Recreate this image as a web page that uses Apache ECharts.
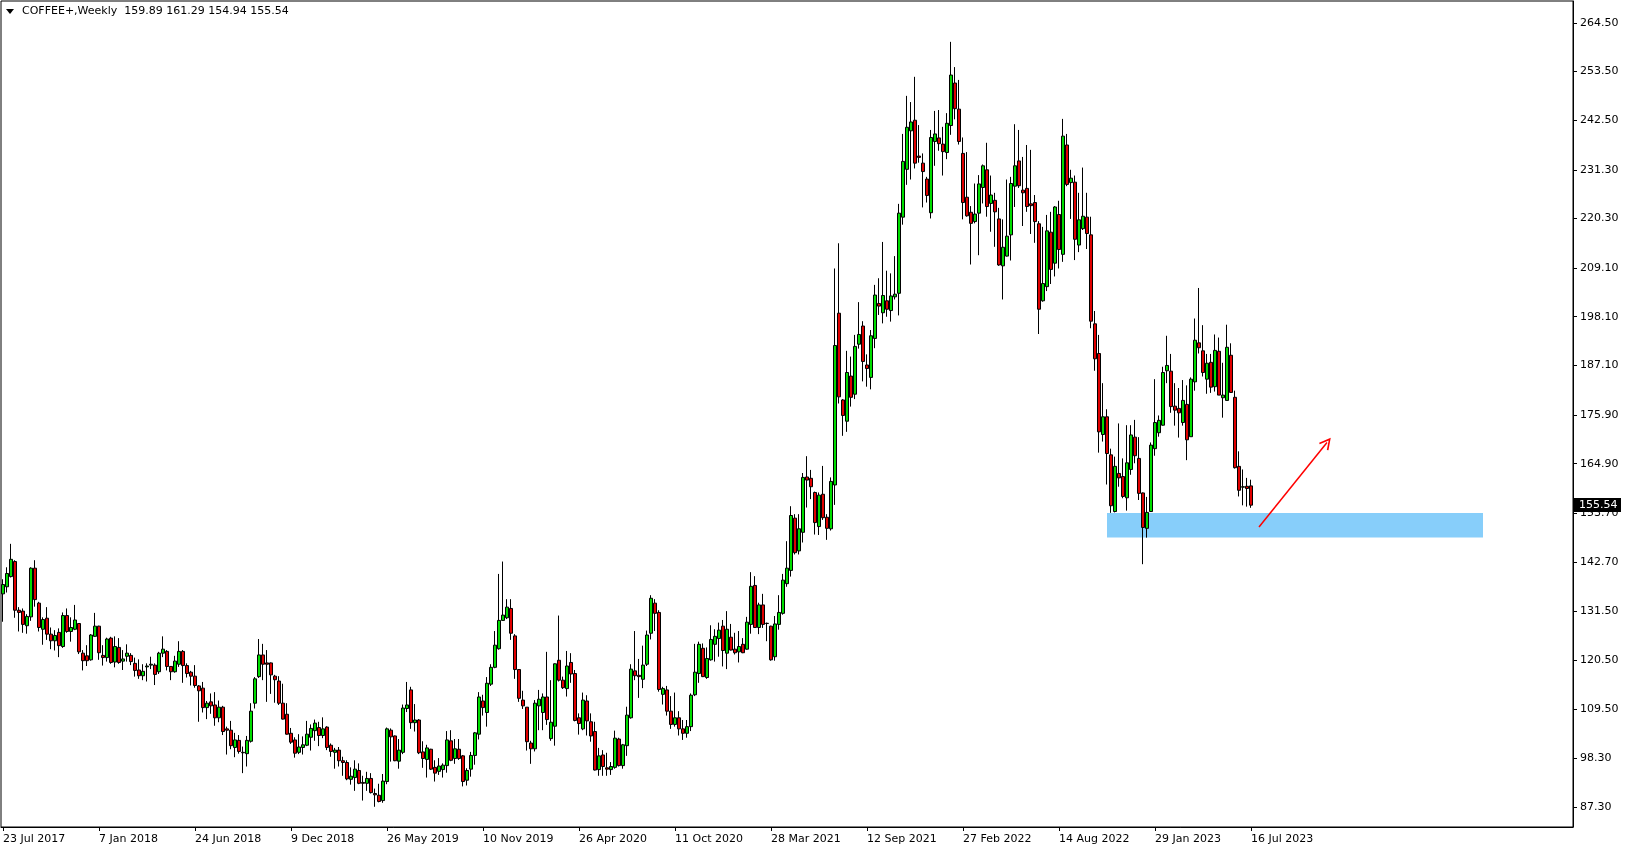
<!DOCTYPE html>
<html><head><meta charset="utf-8">
<script src="https://cdn.jsdelivr.net/npm/echarts@6/dist/echarts.min.js"></script>
<style>html,body{margin:0;padding:0;background:#fff;}#c{width:1629px;height:850px;}</style>
</head><body><div id="c"></div>
<script>
const symbolName = 'COFFEE+,Weekly';
const headerValues = ['159.89', '161.29', '154.94', '155.54'];
const xTickLabels = ['23 Jul 2017','7 Jan 2018','24 Jun 2018','9 Dec 2018','26 May 2019','10 Nov 2019','26 Apr 2020','11 Oct 2020','28 Mar 2021','12 Sep 2021','27 Feb 2022','14 Aug 2022','29 Jan 2023','16 Jul 2023'];
const yTickValues = [87.3, 98.3, 109.5, 120.5, 131.5, 142.7, 153.7, 164.9, 175.9, 187.1, 198.1, 209.1, 220.3, 231.3, 242.5, 253.5, 264.5];

const open = [
135.5,137.1,139.4,142.8,131.8,131.6,128.3,130.3,141.3,133.4,
127.5,130.0,126.4,124.9,126.8,123.6,130.6,127.0,127.5,128.8,
122.1,121.5,120.6,125.9,128.2,121.6,121.1,125.5,120.1,123.4,
120.3,121.4,121.6,119.8,118.3,117.0,119.0,119.4,119.4,117.9,
122.1,122.5,119.1,117.9,119.6,122.5,119.3,117.8,116.9,114.7,
114.2,109.8,111.1,110.4,107.5,109.9,105.0,104.7,100.8,102.4,
99.7,99.4,102.2,110.8,116.8,121.7,119.9,119.9,116.9,115.8,
110.8,108.3,104.0,102.5,99.7,100.8,101.3,103.1,104.6,105.3,
103.5,105.4,101.3,99.7,100.2,97.8,97.4,93.6,94.0,95.6,
92.9,92.7,93.8,90.4,90.0,88.8,93.1,104.7,103.4,97.7,
99.7,109.6,113.8,106.4,107.0,99.8,98.1,100.4,96.3,95.4,
95.8,96.7,102.3,98.3,100.4,98.9,93.4,95.9,99.0,103.8,
111.3,108.7,115.1,118.9,123.1,129.5,130.1,132.2,126.0,118.4,
111.5,109.9,101.8,100.5,110.2,108.7,112.2,102.8,105.6,120.5,
116.0,114.1,120.0,117.5,107.5,105.0,111.3,106.6,104.4,95.8,
99.1,96.2,95.8,96.3,102.7,96.7,101.2,107.5,118.1,117.1,
116.2,119.6,126.6,133.4,131.3,112.8,113.8,109.0,106.0,107.5,
105.0,104.0,105.5,112.7,117.5,123.2,116.6,120.6,124.1,125.4,
128.2,122.1,125.7,123.0,122.4,124.1,123.0,128.6,137.4,127.9,
133.0,128.8,128.2,121.3,128.6,131.1,137.8,140.8,152.6,145.2,
149.4,161.9,161.6,158.4,150.7,158.0,152.8,150.2,160.1,198.9,
179.3,174.5,184.7,180.6,191.9,196.0,187.2,184.4,193.2,201.1,
199.0,201.7,199.5,202.6,203.4,220.6,231.4,240.1,242.5,234.4,
232.8,229.2,221.6,237.7,238.5,237.1,235.2,241.3,250.9,245.0,
235.0,225.1,221.7,219.6,221.5,227.3,231.3,223.7,224.4,220.2,
209.6,211.8,216.6,227.6,233.3,226.7,227.1,223.6,223.9,219.1,
201.7,204.9,217.2,210.2,221.2,212.2,236.9,228.4,228.5,214.3,
218.0,220.6,216.6,196.5,189.8,171.5,175.5,166.9,154.1,162.7,
162.0,157.2,163.6,170.9,166.1,158.3,150.3,154.1,168.3,171.9,
173.6,185.9,185.8,177.9,177.4,174.2,178.3,171.0,183.4,192.2,
190.4,184.0,187.8,182.3,190.3,179.8,179.2,189.4,179.9,164.3,
159.6,159.8,159.89];
const high = [
138.8,141.5,146.8,143.1,132.5,132.2,130.9,141.5,143.1,133.7,
130.2,132.5,127.9,127.3,127.7,131.3,132.2,130.2,133.0,128.9,
122.8,123.9,126.4,131.2,128.3,123.9,125.6,125.8,125.9,125.5,
122.8,124.1,122.1,121.1,120.7,119.6,119.8,121.3,119.8,122.4,
125.9,122.8,119.2,121.5,124.8,122.8,119.8,118.1,119.4,114.9,
115.6,111.3,113.0,113.3,111.4,110.2,105.5,106.8,104.1,103.6,
101.0,103.4,110.8,116.7,125.3,124.2,122.8,120.0,117.2,116.9,
115.2,110.8,105.2,103.1,103.8,103.3,106.8,106.0,107.1,106.6,
107.6,105.6,101.7,100.7,100.9,98.7,97.9,96.3,97.9,97.2,
94.4,95.3,95.0,91.5,92.6,94.8,105.3,105.1,103.5,102.7,
110.5,115.6,114.5,110.6,107.2,102.2,101.4,100.5,97.9,98.4,
97.2,104.5,104.7,102.7,102.7,99.1,96.1,99.8,104.3,113.3,
112.7,116.7,119.6,127.1,140.0,142.8,134.3,134.3,126.4,118.5,
113.6,109.9,102.3,111.5,113.8,113.0,122.4,116.0,119.8,130.6,
116.8,122.6,122.1,118.3,108.5,113.2,112.6,108.5,106.6,100.7,
100.2,99.6,97.5,104.6,103.0,101.6,110.0,119.6,127.1,120.8,
123.8,127.2,135.2,134.3,131.8,114.5,114.7,112.4,113.2,109.0,
107.0,107.0,113.0,124.2,124.7,124.3,123.4,128.4,127.5,129.0,
129.6,131.6,128.7,126.7,127.1,125.5,130.3,140.4,139.5,133.5,
135.5,129.0,128.3,130.5,135.2,140.0,147.4,155.3,153.5,153.5,
162.8,166.6,163.5,158.6,158.4,164.4,153.5,161.8,209.0,214.7,
179.5,190.4,189.1,194.0,201.4,197.1,189.6,195.1,205.3,206.8,
215.0,208.5,207.9,211.8,223.6,239.4,248.0,246.6,252.3,241.4,
235.0,229.7,240.3,244.6,244.8,241.0,244.1,260.2,254.5,251.6,
238.6,235.3,223.1,228.2,230.1,232.5,237.4,230.0,226.1,222.7,
220.1,229.1,229.7,241.6,240.3,234.2,236.9,235.8,225.6,219.7,
218.4,221.1,221.8,223.1,224.3,242.8,239.4,231.3,230.0,226.1,
231.8,226.1,220.7,199.4,194.0,183.1,177.2,168.3,166.5,174.0,
166.1,173.6,173.6,174.8,170.9,158.4,157.4,169.7,184.0,175.8,
186.8,193.8,189.7,183.1,182.0,183.8,182.6,184.4,197.7,204.6,
196.2,189.7,189.7,194.1,193.4,187.7,196.3,192.1,181.4,167.7,
163.6,161.7,161.29];
const low = [
129.2,135.8,139.2,130.1,127.0,126.7,126.5,129.4,132.6,127.0,
124.0,125.1,123.0,122.7,121.2,123.3,126.7,124.7,127.3,121.9,
118.2,119.2,120.4,125.8,120.6,119.3,120.2,119.7,118.9,119.7,
118.3,120.2,119.4,116.8,116.3,116.0,115.7,118.5,114.9,117.4,
121.2,118.2,116.0,117.7,119.0,115.4,116.6,114.8,114.3,106.6,
108.7,107.2,108.4,105.7,106.5,103.6,99.2,100.4,98.6,99.4,
95.0,96.5,101.9,109.6,116.5,116.0,111.1,112.9,110.9,110.4,
107.1,103.7,101.6,98.5,99.3,99.2,101.1,100.1,102.3,101.1,
102.9,100.2,98.7,96.0,96.5,94.4,93.4,92.4,91.0,92.5,
88.8,91.0,90.4,87.4,88.4,88.3,92.5,97.6,97.7,96.0,
99.3,108.8,105.0,104.4,99.3,96.2,94.0,95.7,93.1,94.6,
94.0,95.1,97.7,97.1,98.0,92.0,92.2,94.2,96.9,102.6,
108.0,105.5,114.7,118.7,122.9,129.4,129.8,125.1,116.3,111.1,
109.5,100.1,97.1,99.9,104.7,104.7,105.9,102.3,101.2,115.7,
114.0,112.3,115.4,106.7,103.7,104.7,103.5,102.1,95.6,94.4,
94.4,94.4,94.6,96.0,96.5,96.0,98.9,107.3,116.0,112.0,
114.2,119.2,125.2,127.1,113.4,110.5,108.0,105.0,105.5,103.5,
102.5,103.0,104.5,112.4,115.4,116.7,116.3,120.4,120.2,121.3,
119.1,118.5,122.7,121.8,120.0,122.1,122.9,126.5,127.8,126.4,
127.8,124.8,120.4,120.4,127.4,130.8,137.1,139.4,144.4,144.4,
147.1,155.0,156.9,148.9,148.8,152.2,147.7,149.8,155.6,178.5,
171.2,172.1,177.8,179.5,190.9,183.5,182.3,181.7,191.0,198.5,
196.6,198.1,197.0,202.0,198.4,218.9,227.9,229.1,231.6,232.9,
222.8,223.9,220.3,232.2,235.6,230.0,233.7,239.2,242.7,237.0,
220.1,220.7,209.9,219.2,212.0,223.7,220.7,217.3,213.9,209.6,
202.0,211.7,210.8,222.9,227.2,218.6,221.8,216.8,214.8,194.2,
201.5,203.9,205.5,207.2,209.0,210.5,227.6,220.2,210.9,212.7,
217.7,213.4,195.5,185.9,167.4,169.9,160.2,153.8,153.9,159.7,
157.1,154.3,162.4,165.0,156.7,142.2,148.2,154.0,166.7,171.0,
173.5,183.1,176.4,173.5,170.8,173.5,165.7,171.0,181.4,189.8,
184.6,180.7,180.9,181.2,180.4,175.3,179.2,180.9,163.8,157.5,
155.5,155.2,154.94];
const close = [
137.6,140.1,143.3,131.8,131.3,128.6,130.4,141.3,134.2,127.9,
129.7,126.4,124.9,126.1,123.8,130.6,127.0,127.9,129.6,122.4,
120.4,120.4,126.2,128.2,122.2,121.1,125.3,120.0,123.6,120.0,
120.8,122.1,120.2,118.2,117.0,118.0,119.2,119.6,117.3,122.1,
123.0,119.1,117.9,120.3,122.5,119.3,117.5,116.9,114.8,113.6,
109.8,110.8,110.2,107.5,109.9,104.4,104.7,101.2,102.5,99.9,
99.6,102.4,109.0,116.3,121.7,119.6,119.6,117.2,116.1,110.8,
107.2,103.8,102.0,99.5,100.9,101.4,103.8,105.1,106.3,103.5,
105.0,100.8,99.9,100.2,97.8,97.4,93.7,94.3,95.9,92.7,
92.7,93.8,90.6,90.1,88.6,93.2,105.0,103.2,97.8,100.2,
109.7,110.4,106.4,107.0,99.6,98.3,100.7,95.9,95.0,96.6,
96.8,102.5,97.9,100.5,98.3,93.1,95.6,99.0,104.1,112.2,
109.8,115.3,118.9,123.9,129.5,130.7,132.5,126.6,118.4,111.9,
110.2,102.1,100.5,110.8,111.7,112.2,107.1,106.5,119.7,116.0,
114.3,119.2,117.4,106.9,106.2,111.5,106.8,103.4,95.7,98.9,
96.5,95.9,96.5,102.9,96.7,101.4,108.1,118.5,117.0,116.8,
119.4,126.2,134.5,131.1,113.9,114.1,109.0,106.0,107.5,105.0,
104.0,105.5,112.6,117.8,124.1,116.8,120.9,125.2,125.9,127.3,
122.7,127.5,122.8,122.2,123.6,122.2,129.1,137.2,127.9,133.0,
128.6,128.85,120.6,128.7,131.3,138.6,141.3,153.2,144.8,150.2,
161.8,161.2,159.7,151.6,157.8,152.7,150.3,160.9,191.6,180.0,
175.8,185.5,179.9,191.4,194.1,188.0,186.4,193.8,203.0,200.5,
202.9,199.8,202.8,203.2,221.5,233.2,240.9,242.1,232.8,234.1,
230.9,225.5,238.6,239.4,237.2,235.4,241.8,252.7,245.1,237.7,
223.9,220.9,219.2,221.3,228.1,232.2,223.0,225.6,221.8,209.8,
213.8,216.3,228.2,232.2,227.7,226.1,223.0,223.2,219.6,199.8,
205.6,217.5,208.8,222.9,213.3,238.9,228.0,229.4,215.6,220.0,
220.8,216.9,197.1,188.6,172.1,175.5,167.2,155.4,164.3,161.7,
157.5,165.1,171.4,166.7,158.2,150.5,153.9,169.1,174.2,174.7,
185.5,187.1,177.8,177.0,176.4,179.2,170.3,184.0,192.8,191.1,
185.5,187.6,182.2,190.5,180.4,180.4,191.2,181.0,164.0,158.9,
159.7,159.3,155.54];

const lastPrice = 155.54;
const zoneTop = 153.76, zoneBottom = 148.23, zoneStart = 276, zoneEnd = 370;
const arrowFrom = [314, 150.6], arrowTo = [331, 169.7];
const slotCount = 393;
const tickEvery = 24;

const FONT = '"DejaVu Sans", Verdana, sans-serif';
const cats = Array.from({length: slotCount}, (_, i) => String(i));
const ohlc = open.map((o, i) => [o, close[i], low[i], high[i]]);
const isTick = (i) => i % tickEvery === 0 && i / tickEvery < xTickLabels.length;

const chart = echarts.init(document.getElementById('c'), null, {renderer: 'canvas'});
const headerGraphics = [
  {type: 'polygon', shape: {points: [[6, 9], [14, 9], [10, 14]]}, style: {fill: '#000'}},
  {type: 'text', left: 22, top: 6, style: {text: symbolName + '  ' + headerValues.join(' '), font: '11px ' + FONT, fill: '#000'}}
];
chart.setOption({
  animation: false,
  backgroundColor: '#fff',
  grid: {left: 1, top: 1, right: 56, bottom: 23, show: true, borderColor: '#000', borderWidth: 1, backgroundColor: '#fff'},
  xAxis: {
    type: 'category', data: cats, boundaryGap: true,
    axisLine: {show: true, lineStyle: {color: '#000', width: 1}},
    axisTick: {show: true, alignWithLabel: true, interval: (i) => isTick(i), length: 4, lineStyle: {color: '#000'}},
    axisLabel: {interval: (i) => isTick(i), formatter: (v) => xTickLabels[Number(v) / tickEvery] || '',
      align: 'left', margin: 7, color: '#000', fontFamily: FONT, fontSize: 11},
    splitLine: {show: false}
  },
  yAxis: {
    type: 'value', position: 'right', min: 82.83, max: 269.43,
    axisLine: {show: true, lineStyle: {color: '#000', width: 1}},
    axisTick: {show: true, customValues: yTickValues, length: 4, lineStyle: {color: '#000'}},
    axisLabel: {customValues: yTickValues, formatter: (v) => Number(v).toFixed(2), margin: 7,
      color: '#000', fontFamily: FONT, fontSize: 11, align: 'left'},
    splitLine: {show: false}
  },
  series: [
    {
      type: 'line', data: [], z: 1, silent: true,
      markArea: {silent: true, itemStyle: {color: '#87cefa', opacity: 1},
        data: [[{xAxis: zoneStart, yAxis: zoneTop}, {xAxis: zoneEnd, yAxis: zoneBottom}]]}
    },
    {
      type: 'candlestick', data: ohlc, z: 2, barWidth: 3,
      itemStyle: {color: '#00dd00', color0: '#e00000', borderColor: '#000', borderColor0: '#000', borderWidth: 1}
    },
    {
      type: 'line', data: [], z: 5, silent: true, clip: false,
      markLine: {
        silent: true, animation: false,
        data: [
          [{coord: arrowFrom, symbol: 'none'},
           {coord: arrowTo, symbol: 'path://M5,0 L10,10 L8.8,10.8 L5,3 L1.2,10.8 L0,10 Z', symbolSize: [12, 12],
            lineStyle: {color: '#ff0000', width: 1.5, type: 'solid'}, label: {show: false}}]
        ],
        lineStyle: {color: '#ff0000', width: 1.5, type: 'solid'},
        label: {show: false}
      }
    }
  ],
  graphic: headerGraphics
});

// current price tag on the price scale, positioned through the y axis scale
const priceY = chart.convertToPixel({yAxisIndex: 0}, lastPrice);
const axisX = chart.getWidth() - 56;
chart.setOption({
  graphic: headerGraphics.concat([{
    type: 'group', x: axisX + 1, y: Math.round(priceY), z: 100,
    children: [
      {type: 'rect', shape: {x: 0, y: -7, width: 47, height: 14}, style: {fill: '#000'}},
      {type: 'text', x: 5, y: 0, style: {text: lastPrice.toFixed(2), fill: '#fff', font: '11px ' + FONT, verticalAlign: 'middle', textAlign: 'left'}}
    ]
  }])
});
</script></body></html>
